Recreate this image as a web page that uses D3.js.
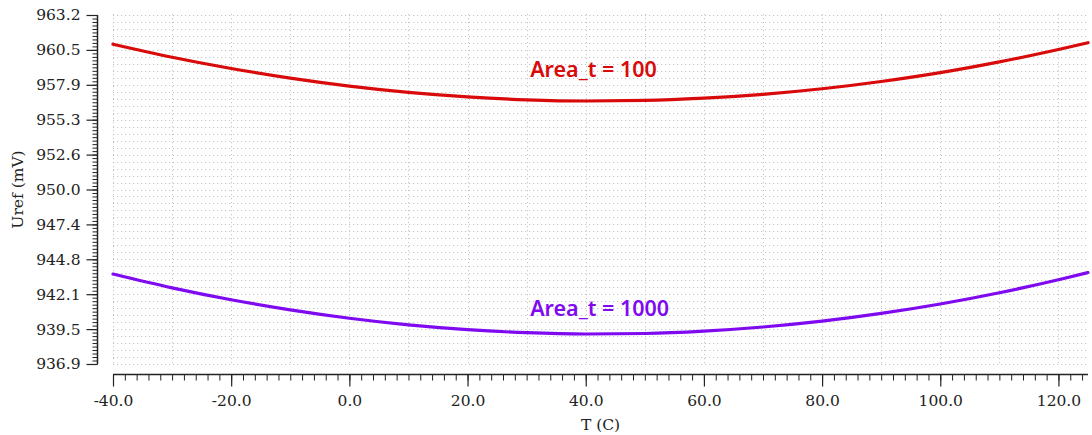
<!DOCTYPE html>
<html>
<head>
<meta charset="utf-8">
<script src="https://cdn.jsdelivr.net/npm/d3@7"></script>
<style>
  html, body { margin: 0; padding: 0; background: #fff; }
  svg { display: block; }
</style>
</head>
<body>
<svg id="chart" width="1092" height="435"></svg>
<script>
// Temperature sweep (°C)
const temps = [-40, -30, -20, -10, 0, 10, 20, 30, 40, 50, 60, 70, 80, 90, 100, 110, 120, 125];
// Reference voltage (mV) for two transistor areas
const uref100 = [961.00, 960.02, 959.17, 958.44, 957.84, 957.37, 957.03, 956.81, 956.72, 956.76,
                 956.93, 957.22, 957.64, 958.19, 958.86, 959.67, 960.60, 961.11];
const uref1000 = [943.68, 942.64, 941.74, 940.98, 940.35, 939.85, 939.49, 939.26, 939.16, 939.20,
                  939.38, 939.69, 940.13, 940.71, 941.42, 942.27, 943.25, 943.79];
const seriesNames = ["Area_t = 100", "Area_t = 1000"];
const xTickLabels = ["-40.0", "-20.0", "0.0", "20.0", "40.0", "60.0", "80.0", "100.0", "120.0"];
const yTickLabels = ["936.9", "939.5", "942.1", "944.8", "947.4", "950.0", "952.6", "955.3", "957.9", "960.5", "963.2"];

const svg = d3.select("#chart");
const plotL = 113, plotR = 1088, plotT = 15, plotB = 364;
const axisX = 97, axisY = 374;

const x = d3.scaleLinear().domain([-40, 125]).range([plotL, plotR]);
const yMin = 936.9, yMax = 963.2;
const y = d3.scaleLinear().domain([yMin, yMax]).range([plotB, plotT]);

const yStep = (yMax - yMin) / (yTickLabels.length - 1);
const yMajor = yTickLabels.map((_, i) => yMin + i * yStep);
const xMajor = xTickLabels.map(s => +s);

// dotted grid
const grid = svg.append("g").attr("stroke", "#c4c4c4").attr("stroke-width", 1)
  .attr("stroke-dasharray", "1.2,2.8");
d3.range(-40, 125, 10).forEach(t => {
  grid.append("line").attr("x1", Math.round(x(t)) + 0.5).attr("x2", Math.round(x(t)) + 0.5)
    .attr("y1", plotT - 1).attr("y2", plotB);
});
d3.range(0, 51).forEach(i => {
  const v = yMin + i * yStep / 5;
  grid.append("line").attr("x1", plotL).attr("x2", plotR)
    .attr("y1", Math.round(y(v)) + 0.5).attr("y2", Math.round(y(v)) + 0.5);
});

// y axis
const yMinor = d3.range(0, 101).map(i => yMin + i * yStep / 10);
svg.append("g").attr("transform", `translate(${axisX + 0.5},0)`)
  .call(d3.axisLeft(y).tickValues(yMinor).tickSize(5).tickFormat(""))
  .call(g => g.select(".domain").remove())
  .selectAll("line").attr("stroke", "#222");
const yAx = svg.append("g").attr("transform", `translate(${axisX + 0.5},0)`)
  .call(d3.axisLeft(y).tickValues(yMajor).tickSize(11).tickPadding(6)
    .tickFormat((d, i) => yTickLabels[i]));
yAx.select(".domain").attr("d", `M0,${plotT}V${plotB}`).attr("stroke", "#222").attr("stroke-width", 1.5);
yAx.selectAll("line").attr("stroke", "#222").attr("stroke-width", 1.2);
yAx.selectAll("text").attr("font-family", "DejaVu Serif").attr("font-size", 15.5).attr("fill", "#222");

// x axis
const xMinor = d3.range(-40, 125, 2);
svg.append("g").attr("transform", `translate(0,${axisY + 0.5})`)
  .call(d3.axisBottom(x).tickValues(xMinor).tickSize(6).tickFormat(""))
  .call(g => g.select(".domain").remove())
  .selectAll("line").attr("stroke", "#222");
const xAx = svg.append("g").attr("transform", `translate(0,${axisY + 0.5})`)
  .call(d3.axisBottom(x).tickValues(xMajor).tickSize(12).tickPadding(8)
    .tickFormat((d, i) => xTickLabels[i]));
xAx.select(".domain").attr("d", `M${plotL},0H${plotR}`).attr("stroke", "#222").attr("stroke-width", 1.5);
xAx.selectAll("line").attr("stroke", "#222").attr("stroke-width", 1.2);
xAx.selectAll("text").attr("font-family", "DejaVu Serif").attr("font-size", 15.5).attr("fill", "#222");

// axis titles
svg.append("text").attr("x", (plotL + plotR) / 2).attr("y", 430).attr("text-anchor", "middle")
  .attr("font-family", "DejaVu Serif").attr("font-size", 15.5).attr("fill", "#222").text("T (C)");
svg.append("text").attr("transform", `translate(23,${(plotT + plotB) / 2}) rotate(-90)`)
  .attr("text-anchor", "middle")
  .attr("font-family", "DejaVu Serif").attr("font-size", 15.5).attr("fill", "#222").text("Uref (mV)");

// curves
const colors = ["#d90a0a", "#7f0af0"];
const line = d3.line().x((d, i) => x(temps[i])).y(d => y(d)).curve(d3.curveMonotoneX);
[uref100, uref1000].forEach((vals, k) => {
  svg.append("path").datum(vals).attr("d", line).attr("fill", "none")
    .attr("stroke", colors[k]).attr("stroke-width", 3.2).attr("stroke-linecap", "round");
});

// curve labels
const labelPos = [[30.6, 958.55], [30.6, 940.55]];
seriesNames.forEach((name, k) => {
  svg.append("text").attr("x", x(labelPos[k][0])).attr("y", y(labelPos[k][1]))
    .attr("font-family", "Noto Sans").attr("font-weight", 600).attr("font-size", 21.5)
    .attr("fill", colors[k]).text(name);
});
</script>
</body>
</html>
